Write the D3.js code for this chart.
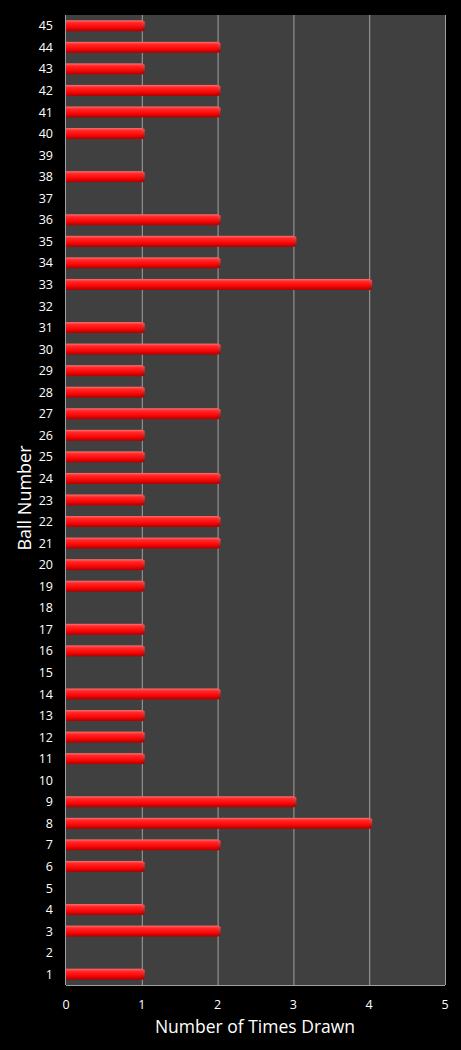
<!DOCTYPE html>
<html>
<head>
<meta charset="utf-8">
<script src="https://cdn.jsdelivr.net/npm/d3@7"></script>
<style>
  body { margin: 0; background: #000; }
  svg { display: block; font-family: "Open Sans", sans-serif; }
</style>
</head>
<body>
<div id="chart"></div>
<script>
// data: ball number and how often it was drawn
const balls = d3.range(1, 46);
const timesDrawn = [1, 0, 2, 1, 0, 1, 2, 4, 3, 0,
                    1, 1, 1, 2, 0, 1, 1, 0, 1, 1,
                    2, 2, 1, 2, 1, 1, 2, 1, 1, 2,
                    1, 0, 4, 2, 3, 2, 0, 1, 0, 1,
                    2, 2, 1, 2, 1];
const xTicks = [0, 1, 2, 3, 4, 5];

const FRAME_WIDTH = 461;
const FRAME_HEIGHT = 1050;
const MARGINS = {left: 66, right: 16, top: 15, bottom: 65};

const VIS_WIDTH = FRAME_WIDTH - MARGINS.left - MARGINS.right;
const VIS_HEIGHT = FRAME_HEIGHT - MARGINS.top - MARGINS.bottom;

const data = balls.map((b, i) => ({ball: b, n: timesDrawn[i]}));

const svg = d3.select('#chart')
  .append('svg')
  .attr('width', FRAME_WIDTH)
  .attr('height', FRAME_HEIGHT);

svg.append('rect')
  .attr('width', FRAME_WIDTH).attr('height', FRAME_HEIGHT)
  .attr('fill', '#000');

// gradient for the tube-like bars
const defs = svg.append('defs');
const grad = defs.append('linearGradient')
  .attr('id', 'barGrad')
  .attr('x1', 0).attr('y1', 0).attr('x2', 0).attr('y2', 1);
grad.append('stop').attr('offset', '0%').attr('stop-color', '#ff7070');
grad.append('stop').attr('offset', '22%').attr('stop-color', '#ff2a2a');
grad.append('stop').attr('offset', '60%').attr('stop-color', '#ff0808');
grad.append('stop').attr('offset', '100%').attr('stop-color', '#b00000');

// end cap is a bit darker
const capGrad = defs.append('linearGradient')
  .attr('id', 'capGrad')
  .attr('x1', 0).attr('y1', 0).attr('x2', 0).attr('y2', 1);
capGrad.append('stop').attr('offset', '0%').attr('stop-color', '#ff5050');
capGrad.append('stop').attr('offset', '100%').attr('stop-color', '#a00000');

const FRAME = svg.append('g')
  .attr('transform', `translate(${MARGINS.left},${MARGINS.top})`);

const x = d3.scaleLinear().domain([0, 5]).range([0, VIS_WIDTH]);
const y = d3.scaleBand()
  .domain(balls.slice().reverse())
  .range([0, VIS_HEIGHT])
  .paddingInner(0.49)
  .paddingOuter(0.245);

// plot background
FRAME.append('rect')
  .attr('width', VIS_WIDTH).attr('height', VIS_HEIGHT)
  .attr('fill', '#404040');

// vertical gridlines
FRAME.selectAll('.grid')
  .data(xTicks.slice(1))
  .join('line')
  .attr('x1', d => x(d) + 0.5).attr('x2', d => x(d) + 0.5)
  .attr('y1', 0).attr('y2', VIS_HEIGHT)
  .attr('stroke', '#a0a0a0')
  .attr('stroke-width', 1);

// axis lines (left and bottom)
FRAME.append('line')
  .attr('x1', -0.5).attr('x2', -0.5).attr('y1', 0).attr('y2', VIS_HEIGHT)
  .attr('stroke', '#a0a0a0');
FRAME.append('line')
  .attr('x1', 0).attr('x2', VIS_WIDTH).attr('y1', VIS_HEIGHT + 0.5).attr('y2', VIS_HEIGHT + 0.5)
  .attr('stroke', '#a0a0a0');

// bars
const bars = FRAME.selectAll('.bar')
  .data(data.filter(d => d.n > 0))
  .join('g')
  .attr('class', 'bar');

bars.append('rect')
  .attr('x', 0)
  .attr('y', d => y(d.ball))
  .attr('width', d => x(d.n) + 1)
  .attr('height', y.bandwidth())
  .attr('fill', 'url(#barGrad)');

bars.append('rect')
  .attr('x', d => x(d.n))
  .attr('y', d => y(d.ball) + 0.5)
  .attr('width', 3)
  .attr('height', y.bandwidth() - 1)
  .attr('rx', 1.5)
  .attr('fill', 'url(#capGrad)');

// y tick labels
FRAME.selectAll('.ylab')
  .data(balls)
  .join('text')
  .attr('x', -13)
  .attr('y', d => y(d) + y.bandwidth() / 2)
  .attr('dy', '0.36em')
  .attr('text-anchor', 'end')
  .attr('fill', '#fff')
  .attr('font-size', 12.5)
  .text(d => d);

// x tick labels
FRAME.selectAll('.xlab')
  .data(xTicks)
  .join('text')
  .attr('x', d => x(d))
  .attr('y', VIS_HEIGHT + 24)
  .attr('text-anchor', 'middle')
  .attr('fill', '#fff')
  .attr('font-size', 12.5)
  .text(d => d);

// axis titles
svg.append('text')
  .attr('x', 255).attr('y', 1033)
  .attr('text-anchor', 'middle')
  .attr('fill', '#fff')
  .attr('font-size', 17.5)
  .text('Number of Times Drawn');

svg.append('text')
  .attr('transform', 'translate(31,498) rotate(-90)')
  .attr('text-anchor', 'middle')
  .attr('fill', '#fff')
  .attr('font-size', 18)
  .text('Ball Number');
</script>
</body>
</html>
